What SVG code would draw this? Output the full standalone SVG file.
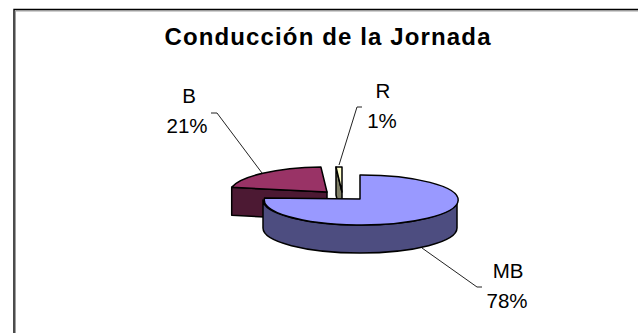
<svg xmlns="http://www.w3.org/2000/svg" width="638" height="333" viewBox="0 0 638 333">
<style>
.frame{fill:none;stroke:#000;stroke-width:1.4}
.shadow{fill:none;stroke:#a0a0a0;stroke-width:1}
.edge{stroke:#000;stroke-width:1.5;stroke-linejoin:round}
.lbl{font-family:"Liberation Sans",Arial,sans-serif;font-size:20.5px;fill:#000;text-anchor:middle}
.title{font-family:"Liberation Sans",Arial,sans-serif;font-size:24px;font-weight:bold;fill:#000;text-anchor:middle}
.leader{fill:none;stroke:#222;stroke-width:1}
</style>
<rect width="638" height="333" fill="#fff"/>
<path class="shadow" d="M15.5,333 V11 H638"/>
<path class="frame" d="M14,333 V9.5 H638"/>
<g id="title"><text class="title" x="327.5" y="45" textLength="326" lengthAdjust="spacing">Conducción de la Jornada</text></g>
<g id="slice-B">
<path class="edge" fill="#4c1933" d="M231.7,187.3 L327,192 L327,220 L231.7,215.3 Z"/>
<path class="edge" fill="#993366" d="M327,192 L231.7,187.3 A97,25 0 0 1 320.9,167 Z"/>
</g>
<g id="slice-R">
<path class="edge" fill="#7f7f66" d="M336,167 L342,192 L342,220 L336,195 Z"/>
<path class="edge" fill="#ffffcc" d="M342,192 L336,167 L342,167 Z"/>
</g>
<g id="slice-MB">
<path class="edge" fill="#4d4d80" d="M457,200 A97,25 0 0 1 263,200 L263,228 A97,25 0 0 0 457,228 Z"/>
<path class="edge" fill="#9999ff" d="M360,199 L360,175 A97,25 0 1 1 264.5,198 Z"/>
</g>
<g id="connectors">
<polyline class="leader" points="211,113 217,113 262,173"/>
<polyline class="leader" points="362,107 357,107 339,165"/>
<polyline class="leader" points="422,248 477,287 482,287"/>
</g>
<g id="label-B"><text class="lbl" x="189" y="103">B</text><text class="lbl" x="187" y="133">21%</text></g>
<g id="label-R"><text class="lbl" x="383" y="98">R</text><text class="lbl" x="382" y="128">1%</text></g>
<g id="label-MB"><text class="lbl" x="508" y="278">MB</text><text class="lbl" x="507" y="308">78%</text></g>
</svg>
